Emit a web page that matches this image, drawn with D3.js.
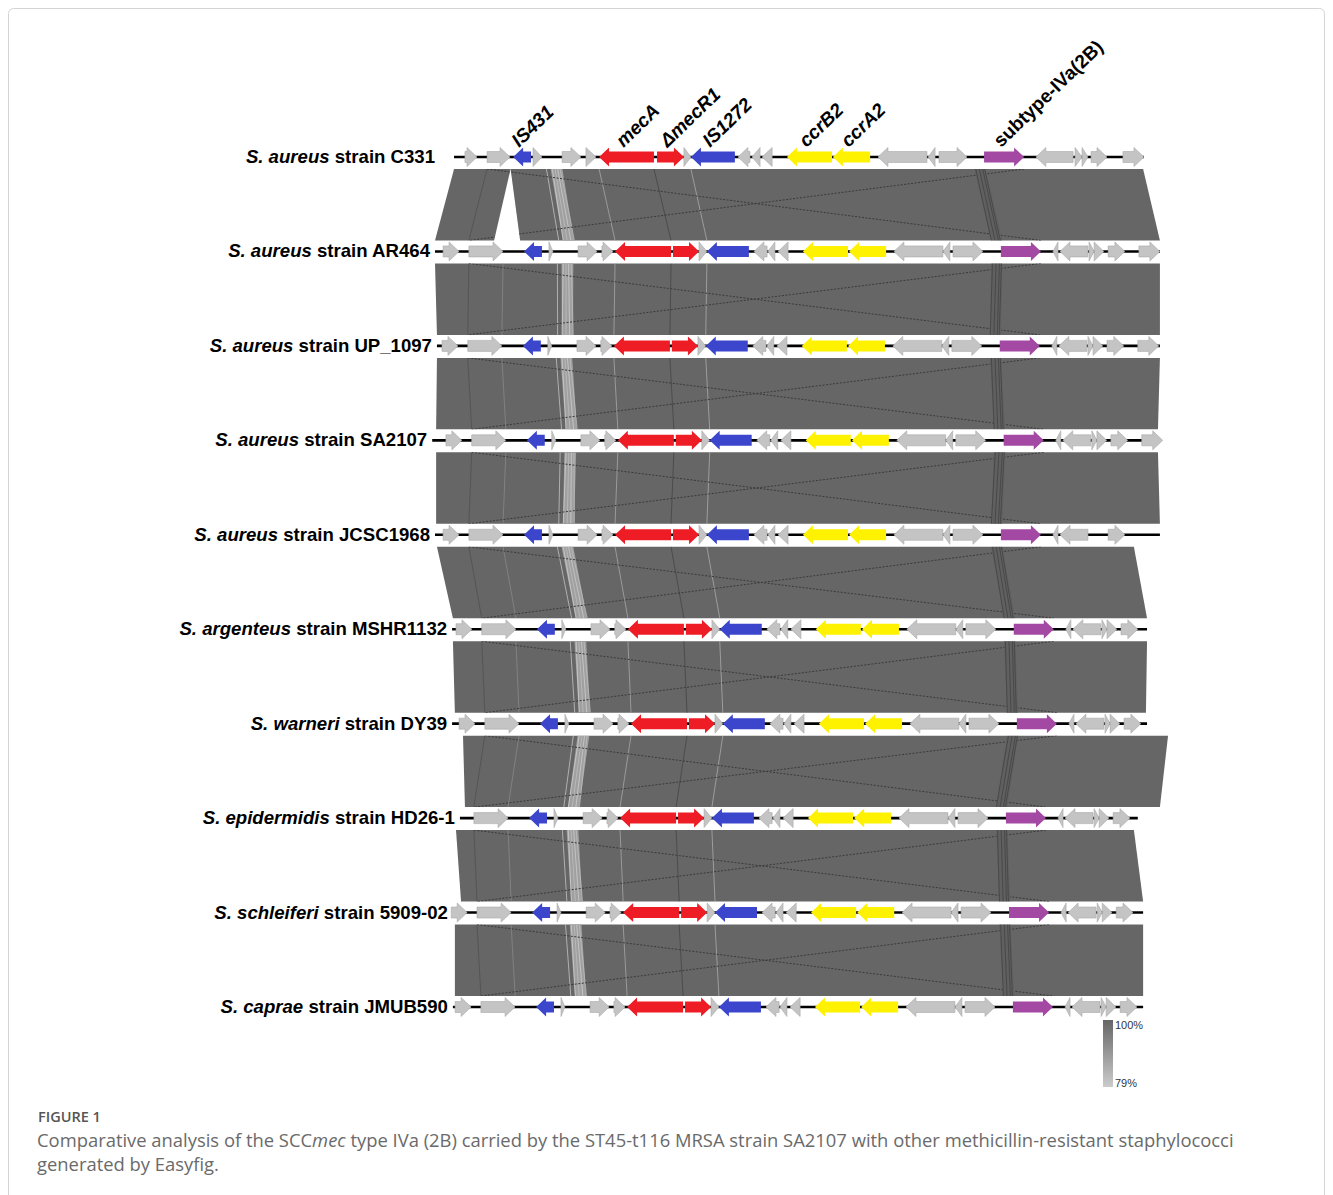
<!DOCTYPE html>
<html>
<head>
<meta charset="utf-8">
<script src="https://cdn.jsdelivr.net/npm/d3@7"></script>
<style>
  body { margin: 0; background: #fff; }
  svg { display: block; }
</style>
</head>
<body>
<svg id="fig" width="1333" height="1195"></svg>
<script>
// tracks, top to bottom
const trackSpecies = ["S. aureus", "S. aureus", "S. aureus", "S. aureus", "S. aureus",
    "S. argenteus", "S. warneri", "S. epidermidis", "S. schleiferi", "S. caprae"];
const trackStrains = ["C331", "AR464", "UP_1097", "SA2107", "JCSC1968",
    "MSHR1132", "DY39", "HD26-1", "5909-02", "JMUB590"];
// shift (kb) of the shared gene layout on each track, null = own layout
const trackShift = [null, 0, -0.04, 0.1, 0, 0.46, 0.57, 0.18, 0.29, 0.43];
// extent of the sequence line (kb)
const trackLine = [[0.68, 25.32], [0, 25.89], [0.07, 25.89], [-0.1, 25.82], [0, 25.89],
    [0.61, 25.43], [0.61, 25.43], [0.89, 25.1], [0.64, 25.29], [0.64, 25.29]];
// genes of the shared layout missing on a track
const trackOmit = [[], [], [], [], ["g22", "g23", "g25"], ["g25"], ["g25"], ["g01", "g25"], ["g25"], ["g25"]];

// shared gene layout (AR464): id, start, end, strand, type
const sharedGenes = [
    ["g01", 0.29, 0.86, 1, "other"], ["g02", 1.21, 2.43, 1, "other"],
    ["IS431", 3.18, 3.82, -1, "IS"], ["g04", 4.07, 4.21, 1, "other"],
    ["g05", 5.11, 5.79, 1, "other"], ["g06", 5.96, 6.36, 1, "other"],
    ["mecA", 6.43, 8.43, -1, "mec"], ["mecR1", 8.5, 9.43, 1, "mec"],
    ["g09", 9.43, 9.71, 1, "other"], ["IS1272", 9.71, 11.21, -1, "IS"],
    ["g11", 11.39, 11.86, -1, "other"], ["g12", 11.89, 12.14, -1, "other"],
    ["g13", 12.25, 12.61, -1, "other"], ["ccrB2", 13.14, 14.75, -1, "ccr"],
    ["ccrA2", 14.79, 16.11, -1, "ccr"], ["g16", 16.39, 18.14, -1, "other"],
    ["g17", 18.14, 18.39, -1, "other"], ["g18", 18.5, 19.57, 1, "other"],
    ["IVa", 20.21, 21.64, 1, "IVa"], ["g20", 22.07, 22.25, -1, "other"],
    ["g21", 22.32, 23.32, -1, "other"], ["g22", 23.36, 23.54, 1, "other"],
    ["g23", 23.54, 23.89, 1, "other"], ["g24", 24.04, 24.64, 1, "other"],
    ["g25", 25.14, 25.89, 1, "other"]
];

// C331 has its own layout
const c331Genes = [
    ["g01", 1.07, 1.5, 1, "other"], ["g02", 1.86, 2.68, 1, "other"],
    ["IS431", 2.79, 3.43, -1, "IS"], ["g04", 3.5, 3.82, 1, "other"],
    ["g05", 4.54, 5.21, 1, "other"], ["g06", 5.39, 5.75, 1, "other"],
    ["mecA", 5.86, 7.82, -1, "mec"], ["mecR1", 7.93, 8.89, 1, "mec"],
    ["g09", 8.89, 9.14, 1, "other"], ["IS1272", 9.14, 10.71, -1, "IS"],
    ["g11", 10.82, 11.25, -1, "other"], ["g12", 11.32, 11.61, -1, "other"],
    ["g13", 11.68, 12.04, -1, "other"], ["ccrB2", 12.57, 14.18, -1, "ccr"],
    ["ccrA2", 14.21, 15.54, -1, "ccr"], ["g16", 15.82, 17.57, -1, "other"],
    ["g17", 17.61, 17.86, -1, "other"], ["g18", 18.0, 19.0, 1, "other"],
    ["IVa", 19.61, 21.04, 1, "IVa"], ["g21", 21.46, 22.79, -1, "other"],
    ["g22", 22.86, 23.11, 1, "other"], ["g23", 23.11, 23.32, 1, "other"],
    ["g24", 23.43, 24.0, 1, "other"], ["g25", 24.57, 25.32, 1, "other"]
];

// gene names written above the first track
const geneLabels = [["IS431", "IS431", true], ["mecA", "mecA", true], ["mecR1", "\u0394mecR1", true],
    ["IS1272", "IS1272", true], ["ccrB2", "ccrB2", true], ["ccrA2", "ccrA2", true],
    ["IVa", "subtype-IVa(2B)", false]];

// BLAST blocks between neighbour tracks: [top start, top end, bottom start, bottom end] (kb)
const bandBlocks = [
    [[0.68, 2.7, 0, 2.11], [2.7, 25.29, 3.04, 25.89]],
    [[0, 25.89, 0.07, 25.89]],
    [[0.07, 25.89, 0.04, 25.82]],
    [[0.04, 25.82, 0.04, 25.89]],
    [[0.07, 24.96, 0.64, 25.43]],
    [[0.64, 25.43, 0.71, 25.39]],
    [[1.0, 26.18, 1.07, 25.89]],
    [[0.75, 24.96, 0.93, 25.29]],
    [[0.71, 25.29, 0.71, 25.29]]
];

const identityRange = [100, 79];
const legendLabels = ["100%", "79%"];

const figureLabel = "FIGURE 1";
const captionLines = [
    ["Comparative analysis of the SCC", "mec", " type IVa (2B) carried by the ST45-t116 MRSA strain SA2107 with other methicillin-resistant staphylococci"],
    ["generated by Easyfig.", "", ""]
];

const geneColor = { other: "#c4c4c4", IS: "#3b46cc", mec: "#ee1c25", ccr: "#fff200", IVa: "#a349a4" };

const svg = d3.select("#fig");
const font = "'Liberation Sans', Arial, Helvetica, sans-serif";

// frame
svg.append("rect")
    .attr("x", 8.5).attr("y", 8.5)
    .attr("width", 1316).attr("height", 1210)
    .attr("rx", 5)
    .attr("fill", "#fff")
    .attr("stroke", "#d4d4d4");

const x = d3.scaleLinear().domain([0, 26]).range([435, 435 + 26 * 28]);
const y = d3.scalePoint().domain(d3.range(trackStrains.length)).range([157, 1007]);

const tracks = trackStrains.map(function(s, i) {
    let genes;
    if (trackShift[i] === null) {
        genes = c331Genes.map(function(g) { return { id: g[0], start: g[1], end: g[2], strand: g[3], type: g[4] }; });
    } else {
        genes = sharedGenes
            .filter(function(g) { return trackOmit[i].indexOf(g[0]) < 0; })
            .map(function(g) { return { id: g[0], start: g[1] + trackShift[i], end: g[2] + trackShift[i], strand: g[3], type: g[4] }; });
    }
    const byId = {};
    genes.forEach(function(g) { byId[g.id] = g; });
    return { index: i, species: trackSpecies[i], strain: s, line: trackLine[i], genes: genes, byId: byId };
});

// ---- comparison bands
const defs = svg.append("defs");
const bandLayer = svg.append("g");

bandBlocks.forEach(function(blocks, i) {
    const top = tracks[i], bot = tracks[i + 1];
    const yT = y(i) + 12, yB = y(i + 1) - 11;
    const poly = function(b) {
        return [[x(b[0]), yT], [x(b[1]), yT], [x(b[3]), yB], [x(b[2]), yB]];
    };
    const line = d3.line();

    const clip = defs.append("clipPath").attr("id", "band-" + i);
    blocks.forEach(function(b) { clip.append("path").attr("d", line(poly(b)) + "Z"); });

    const g = bandLayer.append("g");
    g.selectAll("path.block")
        .data(blocks)
        .enter().append("path")
        .attr("class", "block")
        .attr("d", function(b) { return line(poly(b)) + "Z"; })
        .attr("fill", "#666666");

    const inner = g.append("g").attr("clip-path", "url(#band-" + i + ")");
    const link = function(a, b, stroke, w, dash) {
        inner.append("line")
            .attr("x1", x(a)).attr("y1", yT)
            .attr("x2", x(b)).attr("y2", yB)
            .attr("stroke", stroke)
            .attr("stroke-width", w)
            .attr("stroke-dasharray", dash || null);
    };

    // lower identity streak right of IS431
    const sT = top.byId.IS431.end, sB = bot.byId.IS431.end;
    inner.append("path")
        .attr("d", line([[x(sT + 0.7), yT], [x(sT + 1.12), yT], [x(sB + 1.15), yB], [x(sB + 0.75), yB]]) + "Z")
        .attr("fill", "#a0a0a0");
    [0.76, 0.86, 0.95, 1.04].forEach(function(o, k) {
        link(sT + o, sB + o + 0.04 * k, k % 2 ? "#c8c8c8" : "#dcdcdc", 0.6);
    });
    link(sT + 0.55, sB + 0.6, "#d0d0d0", 0.7);

    // block edges at gene borders
    link(top.byId.g02.start, bot.byId.g02.start, "#4a4a4a", 0.6);
    link(top.byId.g02.end, bot.byId.g02.end, "#949494", 0.6);
    link(top.byId.mecA.start, bot.byId.mecA.start, "#b0b0b0", 0.7);
    link(top.byId.mecA.end, bot.byId.mecA.end, "#404040", 0.7);
    link(top.byId.IS1272.start, bot.byId.IS1272.start, "#b4b4b4", 0.7);

    // inverted repeat matches
    link(top.byId.g02.start, bot.byId.IVa.end, "#3a3a3a", 1, "2,1.5");
    link(top.byId.IVa.end, bot.byId.g02.start, "#3a3a3a", 1, "2,1.5");

    // hatched low identity spot before the IVa gene
    const hT = top.byId.IVa.start, hB = bot.byId.IVa.start;
    inner.append("path")
        .attr("d", line([[x(hT - 0.35), yT], [x(hT + 0.05), yT], [x(hB + 0.05), yB], [x(hB - 0.35), yB]]) + "Z")
        .attr("fill", "#606060");
    [-0.3, -0.17, -0.05, 0.02].forEach(function(o) {
        link(hT + o, hB + o - 0.04, "#363636", 0.55);
    });
});

// ---- tracks
const arrow = function(x0, x1, strand, yc) {
    const bh = 5.5, hh = 9.5, w = x1 - x0;
    const hl = Math.min(10, w);
    if (strand > 0) {
        if (w <= 11) return "M" + x0 + "," + (yc - hh) + "L" + x1 + "," + yc + "L" + x0 + "," + (yc + hh) + "Z";
        return "M" + x0 + "," + (yc - bh) + "L" + (x1 - hl) + "," + (yc - bh) + "L" + (x1 - hl) + "," + (yc - hh) +
            "L" + x1 + "," + yc + "L" + (x1 - hl) + "," + (yc + hh) + "L" + (x1 - hl) + "," + (yc + bh) +
            "L" + x0 + "," + (yc + bh) + "Z";
    }
    if (w <= 11) return "M" + x1 + "," + (yc - hh) + "L" + x0 + "," + yc + "L" + x1 + "," + (yc + hh) + "Z";
    return "M" + x1 + "," + (yc - bh) + "L" + (x0 + hl) + "," + (yc - bh) + "L" + (x0 + hl) + "," + (yc - hh) +
        "L" + x0 + "," + yc + "L" + (x0 + hl) + "," + (yc + hh) + "L" + (x0 + hl) + "," + (yc + bh) +
        "L" + x1 + "," + (yc + bh) + "Z";
};

const labelGap = { "C331": 19 };

const track = svg.append("g").selectAll("g.track")
    .data(tracks)
    .enter().append("g")
    .attr("class", "track");

track.append("line")
    .attr("x1", function(d) { return x(d.line[0]); })
    .attr("x2", function(d) { return x(d.line[1]); })
    .attr("y1", function(d) { return y(d.index); })
    .attr("y2", function(d) { return y(d.index); })
    .attr("stroke", "#000")
    .attr("stroke-width", 2.6);

track.selectAll("path.gene")
    .data(function(d) { return d.genes.map(function(g) { g.yc = y(d.index); return g; }); })
    .enter().append("path")
    .attr("class", "gene")
    .attr("d", function(g) { return arrow(x(g.start), x(g.end), g.strand, g.yc); })
    .attr("fill", function(g) { return geneColor[g.type]; })
    .attr("stroke", function(g) { return g.type === "other" ? "#a9a9a9" : "none"; })
    .attr("stroke-width", 0.6);

const label = track.append("text")
    .attr("x", function(d) { return x(d.line[0]) - (labelGap[d.strain] || 5); })
    .attr("y", function(d) { return y(d.index) + 6; })
    .attr("text-anchor", "end")
    .style("font-family", font)
    .style("font-size", "18.6px")
    .style("font-weight", "bold")
    .attr("fill", "#000");
label.append("tspan").style("font-style", "italic").text(function(d) { return d.species; });
label.append("tspan").text(function(d) { return " strain " + d.strain; });

// ---- gene names above the first track
const first = tracks[0];
svg.append("g").selectAll("text")
    .data(geneLabels)
    .enter().append("text")
    .attr("transform", function(d) {
        const g = first.byId[d[0]];
        return "translate(" + (x((g.start + g.end) / 2) - 3) + "," + (y(0) - 9) + ") rotate(-44)";
    })
    .style("font-family", font)
    .style("font-size", "19px")
    .style("font-weight", "bold")
    .style("font-style", function(d) { return d[2] ? "italic" : "normal"; })
    .text(function(d) { return d[1]; });

// ---- identity legend
const grad = defs.append("linearGradient")
    .attr("id", "identity")
    .attr("x1", 0).attr("y1", 0).attr("x2", 0).attr("y2", 1);
grad.append("stop").attr("offset", "0%").attr("stop-color", "#666666");
grad.append("stop").attr("offset", "100%").attr("stop-color", "#cbcbcb");

const ly = d3.scaleLinear().domain(identityRange).range([1020, 1087]);
svg.append("rect")
    .attr("x", 1103).attr("y", ly(identityRange[0]))
    .attr("width", 10).attr("height", ly(identityRange[1]) - ly(identityRange[0]))
    .attr("fill", "url(#identity)");
svg.append("g").selectAll("text")
    .data(identityRange)
    .enter().append("text")
    .attr("x", 1115)
    .attr("y", function(d) { return ly(d) + (d === identityRange[0] ? 9 : 0); })
    .style("font-family", font)
    .style("font-size", "11px")
    .attr("fill", "#333")
    .text(function(d, i) { return legendLabels[i]; });

// ---- caption
const capFont = "'Open Sans', 'Noto Sans', sans-serif";
svg.append("text")
    .attr("x", 38).attr("y", 1122)
    .style("font-family", capFont)
    .style("font-size", "14.5px")
    .style("font-weight", 600)
    .attr("fill", "#555")
    .text(figureLabel);

captionLines.forEach(function(parts, i) {
    const t = svg.append("text")
        .attr("x", 37).attr("y", 1147 + i * 24)
        .style("font-family", capFont)
        .style("font-size", "18.4px")
        .attr("fill", "#6a6a6a");
    t.append("tspan").text(parts[0]);
    if (parts[1]) t.append("tspan").style("font-style", "italic").text(parts[1]);
    if (parts[2]) t.append("tspan").text(parts[2]);
});
</script>
</body>
</html>
